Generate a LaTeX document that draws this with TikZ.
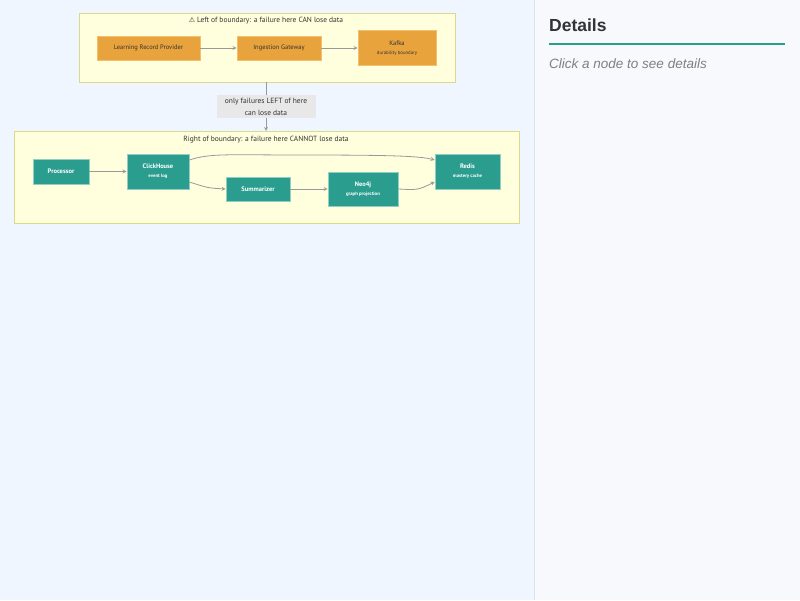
\documentclass[tikz,border=0pt]{standalone}
\usepackage{fontspec}
\setmainfont{PT Sans}
\newfontfamily\symfont{DejaVu Sans}
\newfontfamily\panelfont{Liberation Sans}
\usetikzlibrary{positioning,arrows}

\definecolor{pagebg}{HTML}{EFF6FF}
\definecolor{panelbg}{HTML}{F7F9FC}
\definecolor{panelline}{HTML}{DCE3EA}
\definecolor{clusterbg}{HTML}{FFFFDE}
\definecolor{clusterline}{HTML}{DADA8C}
\definecolor{ingest}{HTML}{E8A33D}
\definecolor{ingestline}{HTML}{F0C070}
\definecolor{store}{HTML}{2A9D8F}
\definecolor{storeline}{HTML}{8FD0C2}
\definecolor{edgegray}{HTML}{999999}
\definecolor{labelbg}{HTML}{E8E8E8}

\tikzset{
  leftbox/.style={draw=ingestline,fill=ingest,line width=0.8pt,inner sep=0pt,
    align=center,text=black!80,font=\fontsize{6.5}{8}\selectfont},
  rightbox/.style={draw=storeline,fill=store,line width=0.8pt,inner sep=0pt,
    align=center,text=white,font=\fontsize{6.5}{8}\selectfont},
  cluster/.style={draw=clusterline,fill=clusterbg,line width=0.8pt},
  flow/.style={->,>=stealth,color=edgegray,line width=0.8pt}
}

\begin{document}
\begin{tikzpicture}[x=1pt,y=-1pt,node distance=130pt,on grid]
	\useasboundingbox (0,0) rectangle (800,600);
	\fill[pagebg] (0,0) rectangle (534,600);
	\fill[panelbg] (534,0) rectangle (800,600);
	\draw[panelline,line width=1pt] (534,0) -- (534,600);

	% side panel
	\node[anchor=west,inner sep=0pt,font=\panelfont\bfseries\fontsize{17.5}{20}\selectfont,text=black!80] (dtitle) at (549,25) {Details};
	\draw[store,line width=2pt] (549,44) -- (785,44);
	\node[anchor=west,inner sep=0pt,font=\panelfont\itshape\fontsize{13.5}{16}\selectfont,text=black!50] (dhint) at (549,64) {Click a node to see details};

	% clusters
	\draw[cluster] (79,13) rectangle (455,82);
	\node[font=\fontsize{7.5}{9}\selectfont,text=black!80] (ltitle) at (266,20.5) {{\symfont\fontsize{7}{9}\selectfont ⚠} Left of boundary: a failure here CAN lose data};
	\draw[cluster] (14,131) rectangle (519,223);
	\node[font=\fontsize{7.5}{9}\selectfont,text=black!80] (rtitle) at (266,139.5) {Right of boundary: a failure here CANNOT lose data};

	% left of boundary
	\node[leftbox,minimum width=103pt,minimum height=24pt] (lrp) at (148.5,48) {Learning Record Provider};
	\node[leftbox,minimum width=84pt,minimum height=24pt] (gw) [right=130.5pt of lrp] {Ingestion Gateway};
	\node[leftbox,minimum width=78pt,minimum height=35pt] (kafka) [right=118pt of gw] {Kafka\\[1pt]{\fontsize{4.8}{6}\selectfont durability boundary}};

	% right of boundary
	\node[rightbox,minimum width=56pt,minimum height=25pt] (proc) at (61,171.5) {\bfseries Processor};
	\node[rightbox,minimum width=62pt,minimum height=35pt] (ch) [right=97pt of proc] {\bfseries ClickHouse\\[1pt]{\bfseries\fontsize{4.8}{6}\selectfont event log}};
	\node[rightbox,minimum width=64pt,minimum height=24pt] (summ) at (258,189) {\bfseries Summarizer};
	\node[rightbox,minimum width=70pt,minimum height=34pt] (neo) [right=105pt of summ] {\bfseries Neo4j\\[1pt]{\bfseries\fontsize{4.8}{6}\selectfont graph projection}};
	\node[rightbox,minimum width=65pt,minimum height=35pt] (redis) at (467.5,171.5) {\bfseries Redis\\[1pt]{\bfseries\fontsize{4.8}{6}\selectfont mastery cache}};

	% boundary edge
	\coordinate (bout) at (266,82);
	\coordinate (bin) at (266,131);
	\draw[flow] (bout) -- node[fill=labelbg,align=center,inner sep=2pt,minimum width=99pt,minimum height=23pt,
		font=\fontsize{7.5}{12}\selectfont,text=black!80] (blabel) {only failures LEFT of here\\can lose data} (bin);

	\path[flow]
	(lrp) edge (gw)
	(gw) edge (kafka)
	(proc) edge (ch)
	(summ) edge (neo);
	\draw[flow] (ch.east|-0,182) .. controls (208,188) .. (summ.west);
	\draw[flow] (ch.east|-0,160) .. controls (210,153) and (230,155) .. (300,155) .. controls (390,155) and (420,156) .. (redis.west|-0,160);
	\draw[flow] (neo.east|-0,189) .. controls (418,190) .. (redis.west|-0,182);
\end{tikzpicture}
\end{document}
